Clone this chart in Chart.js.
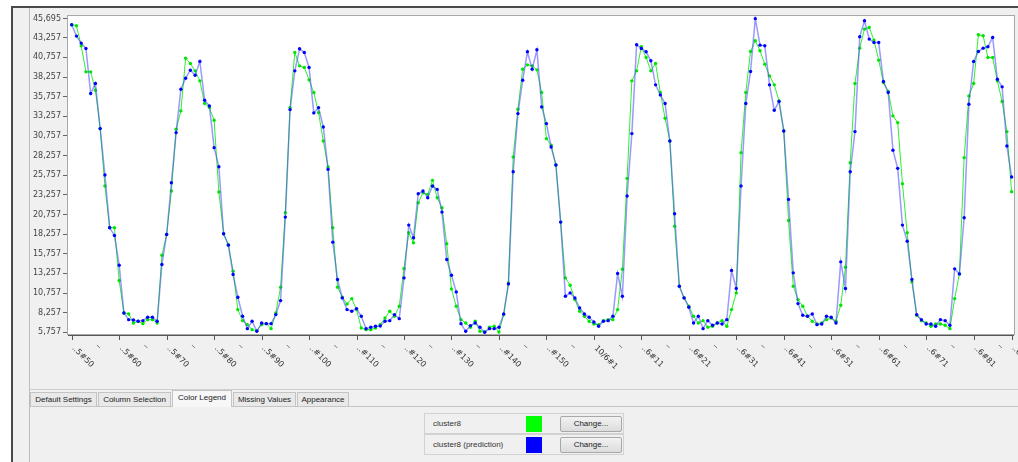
<!DOCTYPE html>
<html>
<head>
<meta charset="utf-8">
<script src="https://cdn.jsdelivr.net/npm/chart.js@4.4.1/dist/chart.umd.min.js"></script>
<style>
    body { margin: 0; width: 1018px; height: 462px; overflow: hidden; background: #fff; font-family: "Liberation Sans", Arial, sans-serif; }
    .abs { position: absolute; }
    #frame { left: 11px; top: 6px; width: 1007px; height: 456px; border-top: 2px solid #4a4a4a; border-left: 2px solid #4a4a4a; background: #f0f0f0; box-sizing: border-box; }
    #chart-wrap { left: 30px; top: 8px; width: 988px; height: 381px; }
    .tab { top: 392px; height: 14px; box-sizing: border-box; border: 1px solid #c4c4c4; border-bottom: none; background: #e9e9e9; font-size: 8px; color: #222; line-height: 13px; text-align: center; white-space: nowrap; }
    .tab.sel { top: 390px; height: 17px; background: #f7f7f7; }
    .legend-row { left: 424px; width: 200px; height: 21px; box-sizing: border-box; border: 1px solid #d2d2d2; background: #f0f0f0; }
    .legend-row span { position: absolute; left: 8px; top: 5px; font-size: 8px; color: #333; }
    .swatch { position: absolute; left: 101px; top: 2px; width: 16px; height: 16px; }
    .btn { position: absolute; left: 135px; top: 2px; width: 62px; height: 16px; box-sizing: border-box; border: 1px solid #a8a8a8; border-radius: 2px; background: linear-gradient(#f2f2f2, #dcdcdc); font-size: 8px; color: #222; text-align: center; line-height: 14px; }
</style>
</head>
<body>
<div id="frame" class="abs"></div>
<div class="abs" style="left:29px;top:8px;width:1px;height:454px;background:#bdbdbd"></div>
<div id="chart-wrap" class="abs"><canvas id="chart-line"></canvas></div>
<div class="abs" style="left:30px;top:389px;width:988px;height:1px;background:#cfcfcf"></div>
<div class="abs" style="left:30px;top:406px;width:988px;height:1px;background:#c4c4c4"></div>

<div class="abs tab" style="left:30px;width:67px">Default Settings</div>
<div class="abs tab" style="left:98px;width:73px">Column Selection</div>
<div class="abs tab sel" style="left:172px;width:60px">Color Legend</div>
<div class="abs tab" style="left:233px;width:63px">Missing Values</div>
<div class="abs tab" style="left:297px;width:52px">Appearance</div>

<div class="abs legend-row" style="top:413px"><span>cluster8</span><div class="swatch" style="background:#00ff00"></div><div class="btn">Change...</div></div>
<div class="abs legend-row" style="top:434px"><span>cluster8 (prediction)</span><div class="swatch" style="background:#0000ff"></div><div class="btn">Change...</div></div>

<script>
// cluster8 actual vs. predicted, one value per row (row index 0..198)
const actual = [
    44900, 44788, 42236, 38920, 38920, 36581, 31692, 24378, 19100, 19063,
    12345, 8220, 8093, 6944, 7157, 6860, 7370, 7370, 6944, 15576,
    18213, 23740, 31607, 33945, 40663, 39983, 39047, 37772, 34881, 34370,
    32755, 23613, 18298, 16937, 13536, 8645, 7242, 6732, 6094, 5967,
    6732, 6860, 6222, 8220, 11495, 20977, 34370, 41386, 39685, 39473,
    37899, 36284, 33732, 30118, 26802, 19063, 11495, 10219, 9368, 10049,
    8645, 6307, 6094, 6094, 6307, 6732, 7582, 8433, 7795, 9070,
    13875, 18425, 17149, 22252, 23528, 23315, 25101, 22890, 21614, 17022,
    11282, 9070, 7370, 6944, 6392, 7157, 5882, 5797, 6392, 6520,
    5797, 8008, 12047, 28077, 34158, 39260, 39813, 39685, 39175, 36284,
    30416, 29566, 27057, 19786, 12685, 11750, 9921, 8433, 7795, 7157,
    6817, 6732, 7242, 7370, 7370, 8645, 13800, 25356, 37772, 39047,
    42109, 40748, 39047, 39983, 36284, 33010, 30118, 19275, 11622, 10134,
    9070, 7795, 6944, 7242, 6392, 6520, 6944, 7242, 6520, 8645,
    10772, 28630, 36284, 41514, 42874, 41599, 39898, 38410, 37262, 35220,
    31394, 19998, 11622, 9921, 9070, 7795, 7157, 6817, 6944, 7370,
    7582, 7157, 9198, 14046, 27354, 37432, 41939, 44362, 44575, 42959,
    40408, 37559, 36411, 33307, 32457, 24676, 18425, 12175, 7923, 7242,
    6944, 6520, 6817, 6817, 6647, 6222, 10049, 13195, 27992, 35858,
    37432, 43640, 43512, 40748, 40748, 37772, 35135, 31309, 23656
];
const predicted = [
    44915, 43470, 42577, 41896, 36156, 37432, 31692, 25781, 19063, 18085,
    14300, 8220, 7370, 7327, 7157, 7242, 7667, 7667, 7157, 14386,
    18213, 24803, 31181, 36709, 38112, 39132, 38495, 40238, 35305, 34583,
    29268, 26844, 18298, 16851, 13110, 10219, 7795, 6222, 7157, 5882,
    6944, 6860, 6860, 8008, 9794, 20424, 34115, 39047, 41854, 41386,
    39473, 33690, 34370, 31904, 26504, 17234, 12472, 10134, 8645, 8433,
    8773, 7795, 6222, 6392, 6520, 6562, 7157, 7242, 8008, 7497,
    12685, 19403, 17787, 23400, 23740, 22890, 24378, 23953, 21062, 15024,
    13025, 10899, 6860, 5882, 6604, 6944, 6392, 5757, 6222, 6222,
    6392, 8093, 11920, 26206, 33605, 37857, 41471, 39260, 41726, 34455,
    32329, 29353, 27057, 19786, 10347, 10772, 10134, 8857, 8093, 7667,
    7072, 6520, 7157, 7242, 7795, 13238, 10347, 23102, 31054, 42364,
    41896, 41471, 40323, 37262, 35986, 34881, 30118, 20849, 11622, 10134,
    8943, 6944, 7795, 6222, 7242, 6647, 6944, 6817, 7370, 13620,
    11325, 24378, 34881, 38962, 45695, 42321, 42236, 37262, 34030, 35135,
    31394, 22677, 13323, 9411, 7923, 7795, 8093, 6732, 6817, 7795,
    7667, 6944, 14726, 11325, 26206, 31309, 43385, 45425, 43087, 42662,
    42662, 37687, 36284, 28928, 26632, 19403, 17362, 12472, 8008, 7370,
    6817, 6817, 6520, 7370, 7242, 6647, 13833, 13195, 20339, 34796,
    40238, 41514, 41939, 42109, 43300, 37985, 37007, 29481, 25526
];

// y ticks: data min, steps of 2,500, data max
const yTickValues = [5757, 8257, 10757, 13257, 15757, 18257, 20757, 23257, 25757,
    28257, 30757, 33257, 35757, 38257, 40757, 43257, 45695];

// row labels shown on the x axis (every 10th row plus the last one)
const xTickRows = [0, 10, 20, 30, 40, 50, 60, 70, 80, 90, 100, 110, 120, 130, 140, 150, 160, 170, 180, 190, 198];
const xTickLabels = ['..5#50', '..5#60', '..5#70', '..5#80', '..5#90', '..#100', '..#110', '..#120', '..#130',
    '..#140', '..#150', '10/6#1', '..6#11', '..6#21', '..6#31', '..6#41', '..6#51', '..6#61', '..6#71', '..6#81', '..6#89'];
const xMinorRows = [5, 15, 25, 35, 45, 55, 65, 75, 85, 95, 105, 115, 125, 135, 145, 155, 165, 175, 185, 195];

const toPoints = arr => arr.map((v, i) => ({ x: i, y: v }));

// white plot area, border, and the slanted row labels underneath
const plotFrame = {
    id: 'plotFrame',
    beforeDraw(chart) {
        const { ctx, chartArea: a } = chart;
        ctx.save();
        ctx.fillStyle = '#ffffff';
        ctx.fillRect(a.left, a.top, a.right - a.left, a.bottom - a.top);
        ctx.restore();
    },
    afterDraw(chart) {
        const { ctx, chartArea: a } = chart;
        const xs = chart.scales.x;
        ctx.save();
        ctx.strokeStyle = '#a8a8a8';
        ctx.lineWidth = 1;
        ctx.strokeRect(a.left - 0.5, a.top - 0.5, a.right - a.left + 1, a.bottom - a.top + 1);

        ctx.strokeStyle = '#555';
        ctx.beginPath();
        ctx.moveTo(a.left, a.bottom + 1.5);
        ctx.lineTo(a.right, a.bottom + 1.5);
        xTickRows.forEach(r => {
            const px = Math.round(xs.getPixelForValue(r)) + 0.5;
            ctx.moveTo(px, a.bottom + 1);
            ctx.lineTo(px, a.bottom + 6);
        });
        ctx.stroke();

        ctx.strokeStyle = '#777';
        ctx.beginPath();
        xMinorRows.forEach(r => {
            const px = xs.getPixelForValue(r);
            ctx.moveTo(px + 1.5, a.bottom + 11);
            ctx.lineTo(px + 4.5, a.bottom + 14);
        });
        ctx.stroke();

        ctx.fillStyle = '#333';
        ctx.font = '8px "DejaVu Sans", sans-serif';
        ctx.textAlign = 'left';
        ctx.textBaseline = 'middle';
        xTickRows.forEach((r, k) => {
            const px = xs.getPixelForValue(r);
            ctx.save();
            ctx.translate(px + 1.5, a.bottom + 13);
            ctx.rotate(Math.PI / 4);
            ctx.fillText(xTickLabels[k], 0, 0);
            ctx.restore();
        });
        ctx.restore();
    }
};

new Chart(document.getElementById('chart-line').getContext('2d'), {
    type: 'line',
    data: {
        datasets: [
            {
                label: 'cluster8 (prediction)',
                data: toPoints(predicted),
                borderColor: 'rgba(70,70,255,0.55)',
                borderWidth: 1.5,
                pointBackgroundColor: '#0000ff',
                pointBorderWidth: 0,
                pointRadius: 1.7,
                tension: 0,
                order: 0
            },
            {
                label: 'cluster8',
                data: toPoints(actual),
                borderColor: '#2ef02e',
                borderWidth: 1,
                pointBackgroundColor: '#00e600',
                pointBorderWidth: 0,
                pointRadius: 1.7,
                tension: 0,
                order: 1
            }
        ]
    },
    options: {
        responsive: true,
        maintainAspectRatio: false,
        animation: false,
        events: [],
        layout: { padding: { top: 8, right: 4, left: 0, bottom: 0 } },
        plugins: { legend: { display: false }, tooltip: { enabled: false } },
        scales: {
            x: {
                type: 'linear',
                min: -0.78,
                max: 198.5,
                grid: { display: false },
                border: { display: false },
                ticks: { display: false },
                afterFit: s => { s.height = 55; }
            },
            y: {
                min: 5540,
                max: 46030,
                afterBuildTicks: s => { s.ticks = yTickValues.map(v => ({ value: v })); },
                grid: { drawOnChartArea: false, drawTicks: true, tickLength: 5, color: '#666' },
                border: { display: false },
                ticks: {
                    color: '#444',
                    padding: 2,
                    font: { family: 'DejaVu Sans', size: 8 },
                    callback: v => v.toLocaleString('en-US')
                },
                afterFit: s => { s.width = 38; }
            }
        }
    },
    plugins: [plotFrame]
});
</script>
</body>
</html>
